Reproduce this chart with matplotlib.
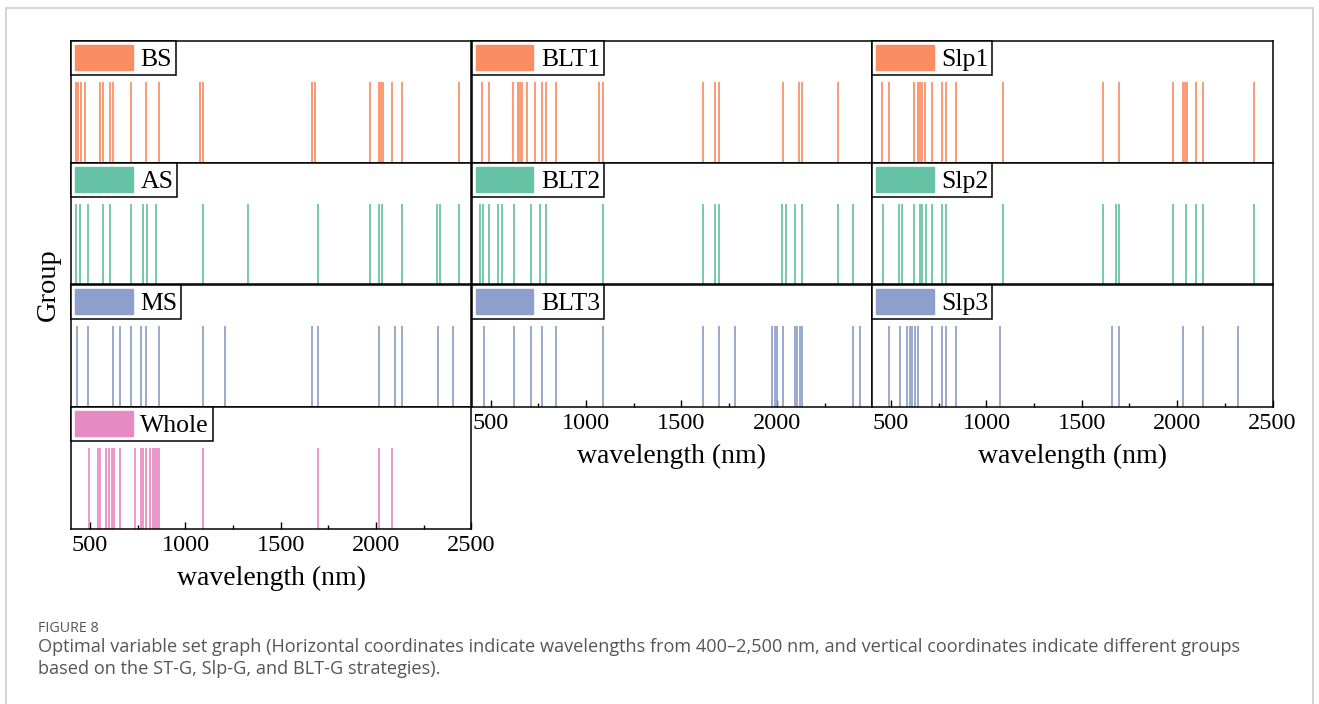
import matplotlib.pyplot as plt
from matplotlib.patches import Patch, Rectangle

# selected wavelengths (nm) per group
BS = [428, 439, 453, 474, 550, 568, 603, 620, 715, 794, 862, 1074, 1091, 1662, 1679,
      1966, 2017, 2028, 2038, 2083, 2134, 2437]
BLT1 = [454, 489, 619, 641, 654, 666, 689, 732, 767, 788, 843, 1070, 1086, 1611, 1676,
        1695, 2031, 2115, 2134, 2320]
Slp1 = [454, 489, 619, 640, 652, 664, 678, 713, 766, 790, 843, 1088, 1611, 1695, 1980,
        2029, 2040, 2050, 2098, 2134, 2402]
AS = [428, 449, 491, 570, 605, 715, 776, 796, 845, 1091, 1326, 1697, 1966, 2014, 2031,
      2133, 2320, 2337, 2437]
BLT2 = [443, 461, 489, 538, 557, 620, 713, 760, 790, 1088, 1611, 1677, 1695, 2029, 2048,
        2097, 2132, 2320, 2400]
Slp2 = [456, 540, 558, 619, 652, 664, 682, 713, 766, 790, 1088, 1611, 1678, 1695, 1980,
        2049, 2098, 2134, 2402]
MS = [430, 491, 621, 656, 715, 766, 792, 862, 1091, 1207, 1662, 1697, 2017, 2099, 2133,
      2322, 2404]
BLT3 = [463, 620, 713, 766, 843, 1088, 1611, 1697, 1779, 1976, 1990, 2003, 2031, 2094,
        2107, 2120, 2133, 2398, 2437]
Slp3 = [488, 549, 582, 597, 611, 625, 639, 713, 766, 790, 843, 1072, 1660,
        1695, 2031, 2134, 2318]
Whole = [493, 543, 554, 585, 599, 614, 626, 655, 733, 768, 780, 794, 815, 828, 840, 852,
         864, 1091, 1697, 2017, 2083]

orange, green, blue, pink = "#fc8d62", "#66c2a5", "#8da0cb", "#e78ac3"

# (name, values, colour, row, col)
panels = [
    ("BS", BS, orange, 0, 0), ("BLT1", BLT1, orange, 0, 1), ("Slp1", Slp1, orange, 0, 2),
    ("AS", AS, green, 1, 0), ("BLT2", BLT2, green, 1, 1), ("Slp2", Slp2, green, 1, 2),
    ("MS", MS, blue, 2, 0), ("BLT3", BLT3, blue, 2, 1), ("Slp3", Slp3, blue, 2, 2),
    ("Whole", Whole, pink, 3, 0),
]

serif = "Liberation Serif"
W, H = 1319, 704
fig = plt.figure(figsize=(W / 100, H / 100), dpi=100)

# outer light frame of the page
fig.patches.append(Rectangle((6 / W, -0.01), 1307 / W, 1.01 - 8 / H, transform=fig.transFigure,
                             fill=False, edgecolor="#cccccc", linewidth=1.2))

col_left = [71, 471.7, 872]
row_top = [41, 163, 285, 407]
pw, ph = 400.5, 121.5

for name, vals, color, r, c in panels:
    ax = fig.add_axes([col_left[c] / W, 1 - (row_top[r] + ph) / H, pw / W, ph / H])
    ax.vlines(vals, 0, 1, colors=color, linewidth=1.25)
    ax.set_xlim(400, 2500)
    ax.set_ylim(0, 1.5)
    ax.set_yticks([])
    for s in ax.spines.values():
        s.set_linewidth(1.1)
    bottom = (r == 3) or (r == 2 and c > 0)
    if bottom:
        ax.set_xticks([500, 1000, 1500, 2000, 2500])
        ax.set_xticks([750, 1250, 1750, 2250], minor=True)
        ax.tick_params(axis="x", which="major", direction="in", length=5, width=1, pad=5)
        ax.tick_params(axis="x", which="minor", direction="in", length=3, width=1)
        labels = ["500", "1000", "1500", "2000", "2500"]
        if c == 1:
            labels[-1] = ""
        ax.set_xticklabels(labels, fontfamily=serif, fontsize=17.5)
        ax.set_xlabel("wavelength (nm)", fontfamily=serif, fontsize=20, labelpad=7)
    else:
        ax.set_xticks([])
    h = Patch(facecolor=color, edgecolor=color)
    leg = ax.legend([h], [name], loc="upper left", borderaxespad=0, borderpad=0.15,
                    handlelength=2.25, handleheight=1.1, handletextpad=0.3,
                    fancybox=False, framealpha=1, edgecolor="black",
                    prop={"family": serif, "size": 18.5})
    leg.get_frame().set_linewidth(1.1)

fig.text(48 / W, 1 - 285 / H, "Group", rotation=90, ha="center", va="center",
         fontfamily=serif, fontsize=20.5)

cap = "Open Sans"
fig.text(38 / W, 1 - 628 / H, "FIGURE 8", ha="left", va="center", fontfamily=cap,
         fontsize=10.3, color="#555555")
fig.text(38 / W, 1 - 647 / H,
         "Optimal variable set graph (Horizontal coordinates indicate wavelengths from 400\u20132,500 nm, "
         "and vertical coordinates indicate different groups",
         ha="left", va="center", fontfamily=cap, fontsize=13.1, color="#555555")
fig.text(38 / W, 1 - 669 / H, "based on the ST-G, Slp-G, and BLT-G strategies).",
         ha="left", va="center", fontfamily=cap, fontsize=13.1, color="#555555")

fig.savefig("out.png", dpi=100)
